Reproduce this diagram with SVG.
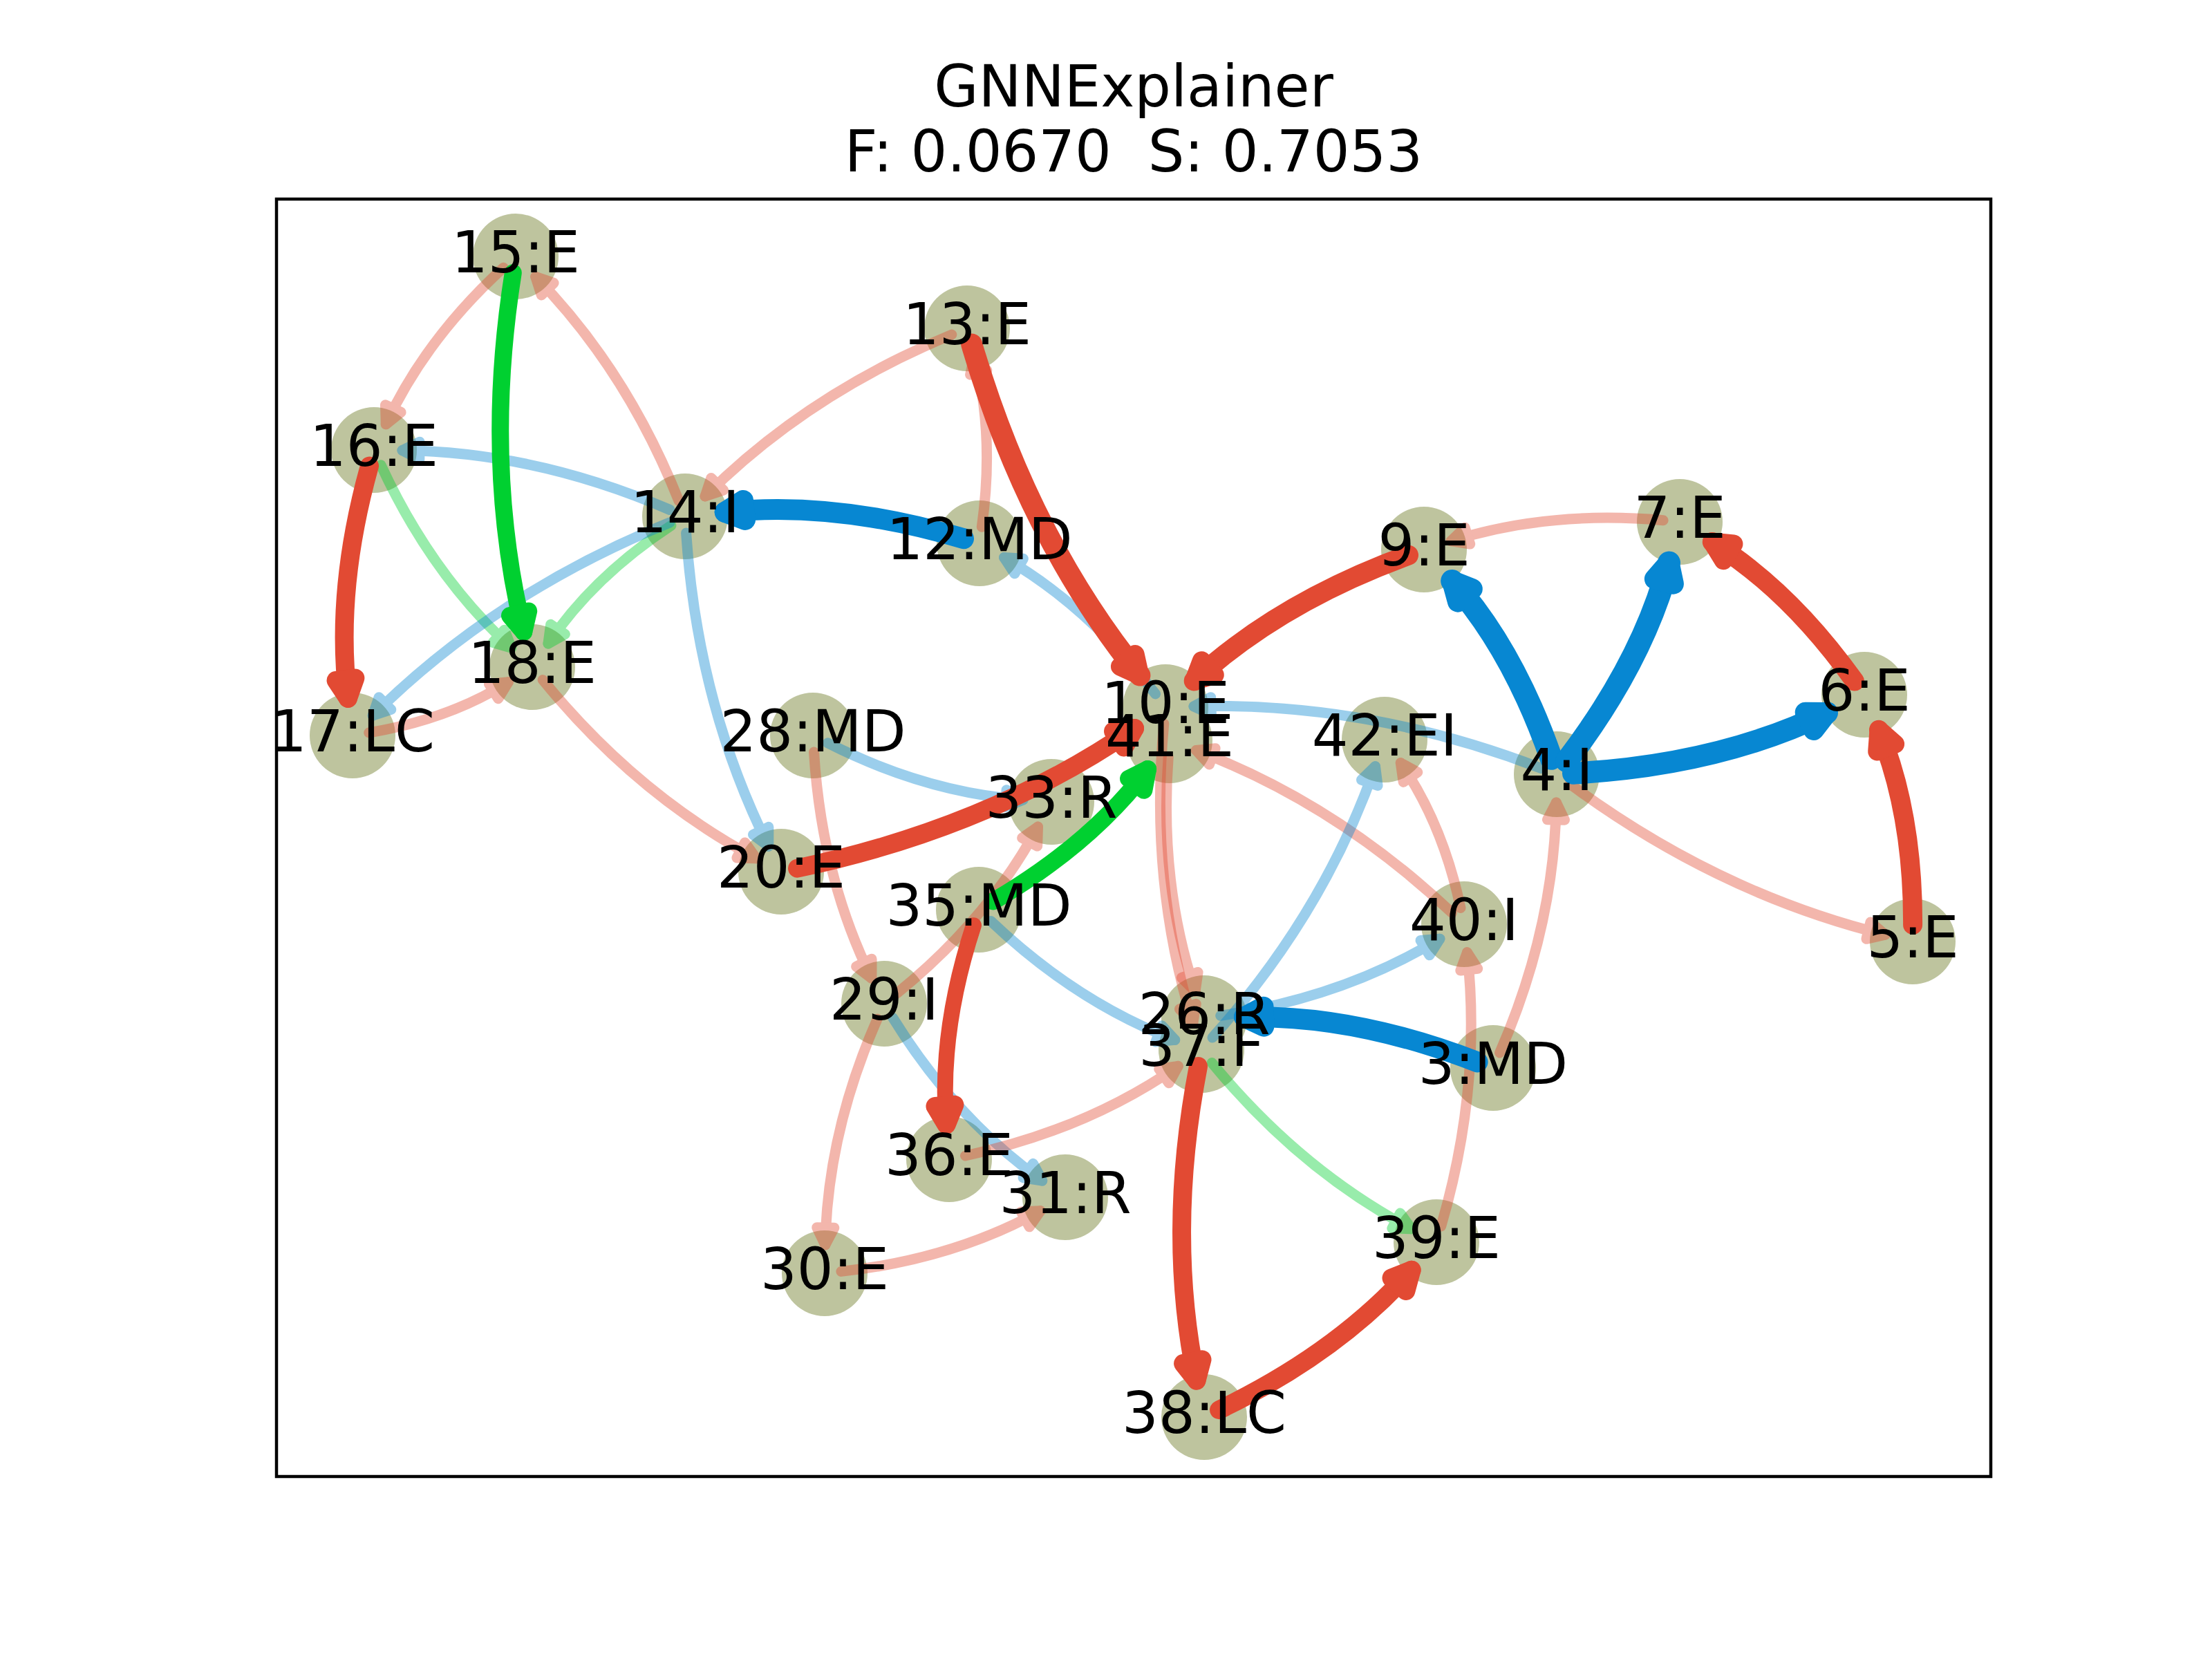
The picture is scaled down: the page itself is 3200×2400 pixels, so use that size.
<svg xmlns="http://www.w3.org/2000/svg" width="3200" height="2400" viewBox="0 0 3200 2400">
<style>
text{font-family:"DejaVu Sans","Liberation Sans",sans-serif;fill:#000}
.ttl{font-size:83px;text-anchor:middle}
.lbl{font-size:83px;text-anchor:middle}
.node{fill:#BEC49E}
.e{fill:none;stroke-linecap:round;stroke-linejoin:round}
.r{stroke:#E24A33}.b{stroke:#0787D2}.g{stroke:#00D030}
.f{opacity:0.4;stroke-width:15}
.r.f{marker-end:url(#rf)}.b.f{marker-end:url(#bf)}.g.f{marker-end:url(#gf)}
.r.t{marker-end:url(#rt)}.b.t{marker-end:url(#bt)}.g.t{marker-end:url(#gt)}
</style>
<defs>
<marker id="rt" markerUnits="userSpaceOnUse" orient="auto" overflow="visible" markerWidth="1" markerHeight="1" refX="0" refY="0"><path d="M0,0 L-28,-14 L-28,14 Z" fill="#E24A33" stroke="#E24A33" stroke-width="27" stroke-linejoin="round"/></marker>
<marker id="bt" markerUnits="userSpaceOnUse" orient="auto" overflow="visible" markerWidth="1" markerHeight="1" refX="0" refY="0"><path d="M0,0 L-28,-14 L-28,14 Z" fill="#0787D2" stroke="#0787D2" stroke-width="30" stroke-linejoin="round"/></marker>
<marker id="gt" markerUnits="userSpaceOnUse" orient="auto" overflow="visible" markerWidth="1" markerHeight="1" refX="0" refY="0"><path d="M0,0 L-28,-14 L-28,14 Z" fill="#00D030" stroke="#00D030" stroke-width="25" stroke-linejoin="round"/></marker>
<marker id="rf" markerUnits="userSpaceOnUse" orient="auto" overflow="visible" markerWidth="1" markerHeight="1" refX="0" refY="0"><path d="M0,0 L-25,-12.5 L-25,12.5 Z" fill="#E24A33" stroke="#E24A33" stroke-width="15" stroke-linejoin="round"/></marker>
<marker id="bf" markerUnits="userSpaceOnUse" orient="auto" overflow="visible" markerWidth="1" markerHeight="1" refX="0" refY="0"><path d="M0,0 L-25,-12.5 L-25,12.5 Z" fill="#0787D2" stroke="#0787D2" stroke-width="15" stroke-linejoin="round"/></marker>
<marker id="gf" markerUnits="userSpaceOnUse" orient="auto" overflow="visible" markerWidth="1" markerHeight="1" refX="0" refY="0"><path d="M0,0 L-25,-12.5 L-25,12.5 Z" fill="#00D030" stroke="#00D030" stroke-width="15" stroke-linejoin="round"/></marker>
</defs>
<rect x="0" y="0" width="3200" height="2400" fill="#fff"/>
<g id="title">
<text class="ttl" x="1640" y="154">GNNExplainer</text>
<text class="ttl" x="1640" y="248" xml:space="preserve">F: 0.0670  S: 0.7053</text>
</g>
<rect id="frame" x="400" y="288" width="2480" height="1848" fill="none" stroke="#000" stroke-width="4.5"/>
<g id="nodes">
<g id="n3"><circle class="node" cx="2160" cy="1545" r="62"/></g>
<g id="n4"><circle class="node" cx="2252" cy="1120" r="62"/></g>
<g id="n5"><circle class="node" cx="2767" cy="1362" r="62"/></g>
<g id="n6"><circle class="node" cx="2697" cy="1005" r="62"/></g>
<g id="n7"><circle class="node" cx="2430" cy="755" r="62"/></g>
<g id="n9"><circle class="node" cx="2060" cy="795" r="62"/></g>
<g id="n10"><circle class="node" cx="1686" cy="1023" r="62"/></g>
<g id="n12"><circle class="node" cx="1417" cy="786" r="62"/></g>
<g id="n13"><circle class="node" cx="1399" cy="475" r="62"/></g>
<g id="n14"><circle class="node" cx="991" cy="747" r="62"/></g>
<g id="n15"><circle class="node" cx="746" cy="371" r="62"/></g>
<g id="n16"><circle class="node" cx="541" cy="651" r="62"/></g>
<g id="n17"><circle class="node" cx="510" cy="1064" r="62"/></g>
<g id="n18"><circle class="node" cx="770" cy="965" r="62"/></g>
<g id="n20"><circle class="node" cx="1130" cy="1261" r="62"/></g>
<g id="n26"><circle class="node" cx="1742" cy="1473" r="62"/></g>
<g id="n28"><circle class="node" cx="1176" cy="1064" r="62"/></g>
<g id="n29"><circle class="node" cx="1279" cy="1452" r="62"/></g>
<g id="n30"><circle class="node" cx="1193" cy="1842" r="62"/></g>
<g id="n31"><circle class="node" cx="1541" cy="1732" r="62"/></g>
<g id="n33"><circle class="node" cx="1521" cy="1160" r="62"/></g>
<g id="n35"><circle class="node" cx="1416" cy="1316" r="62"/></g>
<g id="n36"><circle class="node" cx="1373" cy="1677" r="62"/></g>
<g id="n37"><circle class="node" cx="1738" cy="1519" r="62"/></g>
<g id="n38"><circle class="node" cx="1742" cy="2050" r="62"/></g>
<g id="n39"><circle class="node" cx="2078" cy="1797" r="62"/></g>
<g id="n40"><circle class="node" cx="2118" cy="1337" r="62"/></g>
<g id="n41"><circle class="node" cx="1692" cy="1071" r="62"/></g>
<g id="n42"><circle class="node" cx="2003" cy="1070" r="62"/></g>
</g>
<g id="edges">
<path class="e r f" d="M728.3,387.2 Q615.5,490.5 558.3,613.8"/>
<path class="e r f" d="M982.1,724.7 Q906.1,534.5 774.7,400.3"/>
<path class="e b f" d="M969,737.5 Q775.6,654 582,651.5"/>
<path class="e g f" d="M551.1,672.8 Q624.1,830.9 739.8,937.3"/>
<path class="e g f" d="M970.9,760.2 Q858.7,833.9 793,931.1"/>
<path class="e b f" d="M968.8,756 Q718.8,857.4 539.2,1035.2"/>
<path class="e r f" d="M533.7,1060 Q649.9,1040.5 735.3,986.8"/>
<path class="e r f" d="M785.2,983.6 Q920.4,1149 1093.8,1241.7"/>
<path class="e b f" d="M992.6,771 Q1009.1,1017.9 1111.8,1224.3"/>
<path class="e r f" d="M1376.8,484.1 Q1167.8,570.2 1020,718"/>
<path class="e r f" d="M1420.3,762.2 Q1439.1,628.7 1409.4,514.7"/>
<path class="e b f" d="M1671.5,1003.9 Q1575.2,877.6 1452.5,806.5"/>
<path class="e b f" d="M2229.6,1111.4 Q1978.7,1014.9 1727,1021.9"/>
<path class="e r f" d="M2406.1,752.8 Q2241,738 2099.1,782.7"/>
<path class="e r f" d="M2271.3,1134.3 Q2485.3,1292.5 2727.2,1352.2"/>
<path class="e r f" d="M2169.6,1523 Q2248.5,1341.7 2251.4,1161"/>
<path class="e r f" d="M2113,1313.5 Q2087.2,1192 2026.3,1103.7"/>
<path class="e r f" d="M2100.5,1320.5 Q1931.6,1161.4 1730.4,1085.5"/>
<path class="e r f" d="M2084.7,1774 Q2144,1571 2122.5,1377.8"/>
<path class="e b f" d="M1765.7,1469.4 Q1943.6,1442.6 2082.9,1358.2"/>
<path class="e b f" d="M1754,1501.1 Q1915.4,1321 1989.5,1108.7"/>
<path class="e b f" d="M1433.4,1332.5 Q1556.7,1449.7 1699.7,1504.4"/>
<path class="e r f" d="M1683.8,1046.9 Q1662.4,1276.2 1725.8,1479.9"/>
<path class="e r f" d="M1690.2,1094.9 Q1676.8,1277 1729.1,1434.1"/>
<path class="e b f" d="M1197.4,1074.8 Q1338.9,1146.5 1480.1,1157"/>
<path class="e r f" d="M1177.5,1088 Q1188.7,1268.3 1260.9,1415.2"/>
<path class="e r f" d="M1297.6,1436.9 Q1429.2,1330.2 1501.5,1196.1"/>
<path class="e b f" d="M1291.6,1472.4 Q1382,1618.2 1507.7,1708.1"/>
<path class="e r f" d="M1269.3,1474 Q1197,1638.4 1193.8,1801"/>
<path class="e r f" d="M1216.9,1839.4 Q1378,1821.8 1505.1,1751.8"/>
<path class="e r f" d="M1396.5,1672 Q1571.3,1634.5 1704.3,1542.3"/>
<path class="e g f" d="M1753.2,1537.5 Q1880.2,1692 2041.8,1777.8"/>
<path class="e g t" stroke-width="25" d="M742.3,394.7 Q698.6,670.4 757.7,914.5"/>
<path class="e r t" stroke-width="27" d="M534.5,674.1 Q484.2,854.4 503.4,1010.4"/>
<path class="e b t" stroke-width="30" d="M1394,779.2 Q1207.9,723.9 1048.7,740.9"/>
<path class="e r t" stroke-width="31" d="M1405.7,498 Q1487.7,777.7 1648.9,977.1"/>
<path class="e r t" stroke-width="29" d="M2037.5,803.2 Q1850.2,871.6 1727.2,985"/>
<path class="e b t" stroke-width="33" d="M2244.1,1097.3 Q2188.5,938.3 2100.7,840.4"/>
<path class="e b t" stroke-width="33" d="M2266.5,1100.9 Q2377.5,955.3 2414.5,814"/>
<path class="e b t" stroke-width="32" d="M2276,1118.7 Q2486,1107 2643,1031.1"/>
<path class="e r t" stroke-width="28" d="M2683,985.5 Q2588.5,853.3 2476.8,784"/>
<path class="e r t" stroke-width="28" d="M2767.1,1338 Q2767.7,1176.5 2718,1055.8"/>
<path class="e r t" stroke-width="27" d="M1153.5,1256.1 Q1431.8,1197.6 1641.5,1053.6"/>
<path class="e g t" stroke-width="25" d="M1436.7,1303.9 Q1578.5,1221.1 1660.6,1112.5"/>
<path class="e r t" stroke-width="23" d="M1408.5,1338.8 Q1358.4,1492.2 1369.1,1627.2"/>
<path class="e b t" stroke-width="30" d="M2137.6,1536.4 Q1958.2,1467.2 1800,1471.4"/>
<path class="e r t" stroke-width="27" d="M1733.5,1542.6 Q1686.9,1784.9 1731,1997.1"/>
<path class="e r t" stroke-width="27" d="M1763.6,2039.6 Q1935.3,1957.1 2042.1,1837.3"/>
</g>
<g id="labels">
<text class="lbl" x="2160" y="1568">3:MD</text>
<text class="lbl" x="2252" y="1143">4:I</text>
<text class="lbl" x="2767" y="1385">5:E</text>
<text class="lbl" x="2697" y="1028">6:E</text>
<text class="lbl" x="2430" y="778">7:E</text>
<text class="lbl" x="2060" y="818">9:E</text>
<text class="lbl" x="1686" y="1046">10:E</text>
<text class="lbl" x="1417" y="809">12:MD</text>
<text class="lbl" x="1399" y="498">13:E</text>
<text class="lbl" x="991" y="770">14:I</text>
<text class="lbl" x="746" y="394">15:E</text>
<text class="lbl" x="541" y="674">16:E</text>
<text class="lbl" x="510" y="1087">17:LC</text>
<text class="lbl" x="770" y="988">18:E</text>
<text class="lbl" x="1130" y="1284">20:E</text>
<text class="lbl" x="1742" y="1496">26:R</text>
<text class="lbl" x="1176" y="1087">28:MD</text>
<text class="lbl" x="1279" y="1475">29:I</text>
<text class="lbl" x="1193" y="1865">30:E</text>
<text class="lbl" x="1541" y="1755">31:R</text>
<text class="lbl" x="1521" y="1183">33:R</text>
<text class="lbl" x="1416" y="1339">35:MD</text>
<text class="lbl" x="1373" y="1700">36:E</text>
<text class="lbl" x="1738" y="1542">37:F</text>
<text class="lbl" x="1742" y="2073">38:LC</text>
<text class="lbl" x="2078" y="1820">39:E</text>
<text class="lbl" x="2118" y="1360">40:I</text>
<text class="lbl" x="1692" y="1094">41:E</text>
<text class="lbl" x="2003" y="1093">42:EI</text>
</g>
</svg>
